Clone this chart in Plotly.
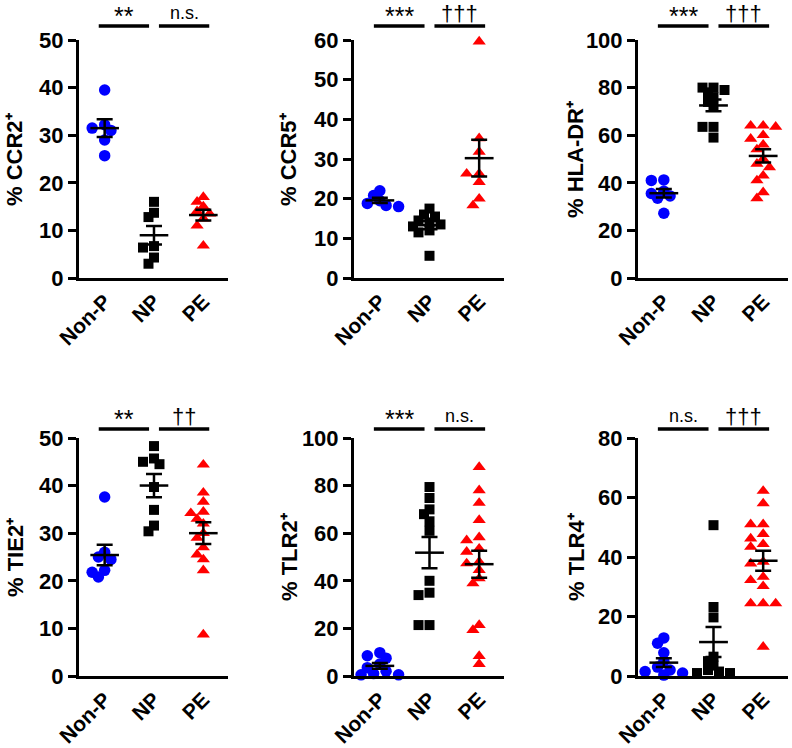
import numpy as np
import plotly.graph_objects as go

# ---------------- data ----------------
groups = ["Non-P", "NP", "PE"]

ccr2_nonp = [39.5, 32.2, 31.5, 31.0, 29.0, 25.7]
ccr2_np = [16.0, 13.7, 12.8, 6.7, 6.4, 4.3, 3.0]
ccr2_pe = [17.0, 16.0, 15.0, 14.0, 13.5, 12.5, 11.0, 6.8]

ccr5_nonp = [22.0, 20.8, 19.5, 18.8, 18.3, 18.0]
ccr5_np = [17.5, 16.0, 15.5, 14.5, 14.0, 13.5, 13.0, 12.0, 11.5, 5.6]
ccr5_pe = [59.6, 35.2, 31.8, 26.3, 26.3, 24.2, 20.0, 18.3]

hla_nonp = [41.2, 41.0, 36.5, 35.5, 34.5, 33.5, 27.2]
hla_np = [80.0, 80.0, 79.0, 78.0, 76.0, 74.0, 72.0, 63.5, 63.5, 59.0]
hla_pe = [64.0, 64.0, 63.5, 60.0, 58.5, 56.0, 54.0, 50.0, 48.0, 46.5, 43.0, 41.0, 36.0, 33.5]

tie2_nonp = [37.6, 26.0, 25.0, 24.5, 22.2, 21.8, 20.8]
tie2_np = [48.3, 45.7, 45.0, 44.5, 39.7, 34.9, 31.6, 30.4]
tie2_pe = [44.4, 38.5, 36.6, 34.5, 34.2, 33.0, 32.0, 30.0, 29.0, 27.0, 25.5, 24.5, 22.2, 8.7]

tlr2_nonp = [9.8, 8.5, 7.5, 5.0, 3.5, 2.0, 1.0, 0.5, 0.5]
tlr2_np = [79.4, 74.8, 70.0, 68.0, 65.0, 61.0, 40.0, 35.0, 34.0, 21.4, 21.4]
tlr2_pe = [87.8, 78.0, 72.7, 65.5, 58.3, 57.0, 53.5, 52.2, 48.0, 47.3, 44.5, 41.0, 38.9, 21.4, 19.3, 8.4, 5.0]

tlr4_nonp = [12.8, 11.0, 7.8, 5.0, 3.0, 2.0, 1.5, 1.0, 0.5, 0.3]
tlr4_np = [50.7, 23.2, 19.7, 6.5, 5.0, 3.5, 2.0, 1.5, 1.0, 1.0]
tlr4_pe = [62.2, 58.0, 51.0, 51.0, 47.7, 46.2, 44.3, 43.4, 38.4, 37.8, 33.3, 32.2, 30.2, 24.4, 24.4, 24.4, 9.8]

titles = ["% CCR2⁺", "% CCR5⁺", "% HLA-DR⁺", "% TIE2⁺", "% TLR2⁺", "% TLR4⁺"]
series = [
    [ccr2_nonp, ccr2_np, ccr2_pe],
    [ccr5_nonp, ccr5_np, ccr5_pe],
    [hla_nonp, hla_np, hla_pe],
    [tie2_nonp, tie2_np, tie2_pe],
    [tlr2_nonp, tlr2_np, tlr2_pe],
    [tlr4_nonp, tlr4_np, tlr4_pe],
]
ymaxes = [50, 60, 100, 50, 100, 80]
dticks = [10, 10, 20, 10, 20, 20]
sig_left = ["**", "***", "***", "**", "***", "n.s."]
sig_right = ["n.s.", "†††", "†††", "††", "n.s.", "†††"]

# ---------------- layout geometry (px) ----------------
W, H = 792, 748
COLS_PX = [(79, 228), (354, 504), (638, 788)]
ROWS_PX = [(40, 278), (438, 676)]
TITLE_X_PX = [15, 289, 576]
XRANGE = [-0.52, 2.5]
SIG_BAR_PX = [26, 429]

colors = ["#0000FF", "black", "#FF0000"]
symbols = ["circle", "square", "triangle-up"]
sizes = [11.5, 10, 11.5]
FONT = "Liberation Sans, Arial, sans-serif"


def swarm(vals, px_y, px_x, diam):
    """Simple beeswarm: horizontal offsets (data units) allowing partial overlap."""
    placed = []
    offs = []
    step = diam * 0.5
    mind = diam * 0.62
    for v in vals:
        y = v * px_y
        cands = [0]
        for j in range(1, 40):
            cands += [-j * step, j * step]
        for c in cands:
            if all((c - px) ** 2 + (y - py) ** 2 >= mind ** 2 for px, py in placed):
                placed.append((c, y))
                offs.append(c / px_x)
                break
    return offs


def sig_style(txt):
    # (font size, gap in px between text box bottom and the bar)
    if txt.startswith("n"):
        return 18, 1
    if txt.startswith("*"):
        return 25, -6
    return 22, -2


fig = go.Figure()
layout = dict(width=W, height=H, margin=dict(l=0, r=0, t=0, b=0, autoexpand=False),
              paper_bgcolor="white", plot_bgcolor="white", showlegend=False,
              font=dict(family=FONT, color="black"))
shapes = []
annotations = []

for i in range(6):
    row, col = divmod(i, 3)
    n = i + 1
    sfx = "" if n == 1 else str(n)
    xa, ya = "x" + sfx, "y" + sfx
    x0p, x1p = COLS_PX[col]
    ytop, ybot = ROWS_PX[row]
    px_x = (x1p - x0p) / (XRANGE[1] - XRANGE[0])
    px_y = (ybot - ytop) / ymaxes[i]

    for g, vals in enumerate(series[i]):
        offs = swarm(vals, px_y, px_x, sizes[g] + 1)
        fig.add_trace(go.Scatter(
            x=[g + o for o in offs], y=vals, mode="markers", xaxis=xa, yaxis=ya,
            marker=dict(symbol=symbols[g], color=colors[g], size=sizes[g], line=dict(width=0)),
            cliponaxis=False, hoverinfo="skip"))
    for g, vals in enumerate(series[i]):
        arr = np.array(vals, dtype=float)
        m = arr.mean()
        sem = arr.std(ddof=1) / np.sqrt(len(arr))
        fig.add_trace(go.Scatter(
            x=[g - 0.29, g + 0.29], y=[m, m], mode="lines", xaxis=xa, yaxis=ya,
            line=dict(color="black", width=2.5), cliponaxis=False, hoverinfo="skip"))
        fig.add_trace(go.Scatter(
            x=[g], y=[m], mode="markers", xaxis=xa, yaxis=ya,
            marker=dict(size=1, color="rgba(0,0,0,0)"),
            error_y=dict(type="data", array=[sem], visible=True, color="black",
                         thickness=2.5, width=8),
            cliponaxis=False, hoverinfo="skip"))

    layout["xaxis" + sfx] = dict(
        domain=[x0p / W, x1p / W], anchor=ya, range=XRANGE, automargin=False,
        tickmode="array", tickvals=[0, 1, 2], ticktext=groups, tickangle=-45,
        ticks="", showline=True, linewidth=3, linecolor="black",
        showgrid=False, zeroline=False,
        tickfont=dict(family=FONT, size=21, color="black", weight="bold"))
    layout["yaxis" + sfx] = dict(
        domain=[(H - ybot) / H, (H - ytop) / H], anchor=xa, range=[0, ymaxes[i]],
        automargin=False,
        tick0=0, dtick=dticks[i], ticks="outside", ticklen=8, tickwidth=3,
        tickcolor="black", showline=True, linewidth=3, linecolor="black",
        showgrid=False, zeroline=False,
        tickfont=dict(family=FONT, size=22, color="black", weight="bold"))

    ybar = (H - SIG_BAR_PX[row]) / H
    for (a, b), txt in [((-0.12, 0.9), sig_left[i]), ((1.1, 2.12), sig_right[i])]:
        fs, gap = sig_style(txt)
        shapes.append(dict(type="line", xref=xa, yref="paper", x0=a, x1=b,
                           y0=ybar, y1=ybar, line=dict(color="black", width=3.5)))
        annotations.append(dict(text=txt, xref=xa, yref="paper", x=(a + b) / 2,
                                y=(H - SIG_BAR_PX[row] + gap) / H,
                                xanchor="center", yanchor="bottom", showarrow=False,
                                font=dict(family=FONT, size=fs, color="black")))

    annotations.append(dict(text=titles[i], xref="paper", yref="paper",
                            x=TITLE_X_PX[col] / W, y=(H - (ytop + ybot) / 2) / H,
                            xanchor="center", yanchor="middle", textangle=-90,
                            showarrow=False,
                            font=dict(family=FONT, size=22, color="black", weight="bold")))

layout["shapes"] = shapes
layout["annotations"] = annotations
fig.update_layout(**layout)
fig.write_html(
    "out.html",
    config={"displayModeBar": False},
    post_script="document.body.style.margin='0';document.body.style.overflow='hidden';",
)
